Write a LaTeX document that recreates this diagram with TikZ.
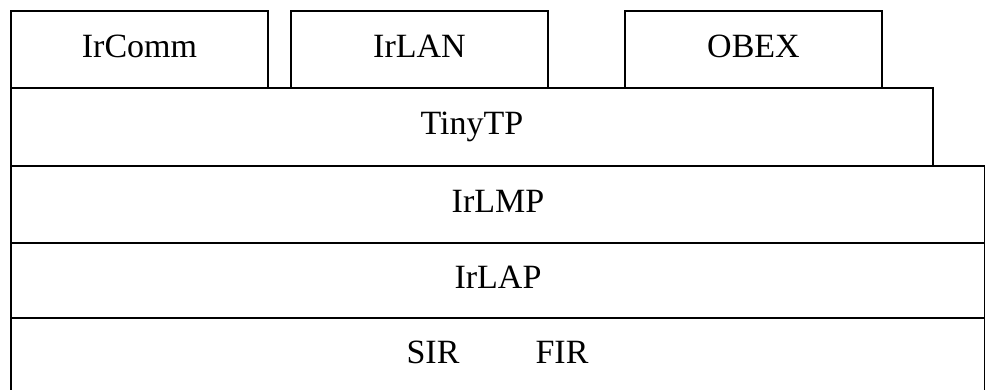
\documentclass[tikz,border=0pt]{standalone}
\usepackage{fontspec}
\setmainfont{Liberation Serif}
\begin{document}
\begin{tikzpicture}[x=1pt,y=-1pt,
  layer/.style={draw=black, line width=2pt, fill=none, inner sep=0pt, anchor=north west,
    font=\fontsize{34}{36}\selectfont, text height=23pt, text depth=7pt, align=center},
  lbl/.style={inner sep=0pt, anchor=base, font=\fontsize{34}{36}\selectfont}]
\useasboundingbox (0,0) rectangle (985,390);
\node[layer, minimum width=257pt, minimum height=77pt] (ircomm) at (10,10) {IrComm};
\node[layer, minimum width=257pt, minimum height=77pt] (irlan) at (290,10) {IrLAN};
\node[layer, minimum width=257pt, minimum height=77pt] (obex) at (624,10) {OBEX};
\node[layer, minimum width=922pt, minimum height=78pt] (tinytp) at (10,87) {TinyTP};
\node[layer, minimum width=974pt, minimum height=77pt] (irlmp) at (10,165) {IrLMP};
\node[layer, minimum width=974pt, minimum height=75pt] (irlap) at (10,242) {IrLAP};
\node[layer, minimum width=974pt, minimum height=80pt] (phy) at (10,317) {};
\node[lbl] (sir) at (433,363) {SIR};
\node[lbl] (fir) at (562,363) {FIR};
\end{tikzpicture}
\end{document}
